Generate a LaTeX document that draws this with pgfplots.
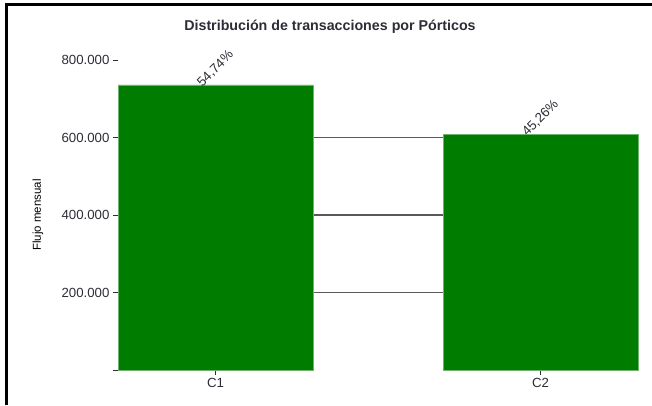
\documentclass[border=0pt]{standalone}
\usepackage{fontspec}
\setmainfont{Liberation Sans}
\usepackage{pgfplots}
\pgfplotsset{compat=1.18}
\definecolor{bargreen}{RGB}{0,125,0}
\definecolor{baredge}{RGB}{110,180,110}
\definecolor{txt}{RGB}{45,45,55}
\definecolor{gridc}{RGB}{90,90,90}
\begin{document}
\begin{tikzpicture}[x=1bp,y=1bp]
\useasboundingbox (0,0) rectangle (652,405);
\fill[white] (0,0) rectangle (652,405);
\draw[line width=3bp] (6,0) -- (6,400) -- (652,400);
\node[font=\bfseries\fontsize{14.3}{16}\selectfont, text=txt] at (330,378) {Distribución de transacciones por Pórticos};
\begin{axis}[
  at={(118bp,35bp)}, anchor=south west,
  scale only axis, width=520bp, height=310bp,
  xmin=-0.3, xmax=1.3, ymin=0, ymax=800000,
  clip=false,
  axis x line*=bottom, axis y line*=left,
  axis line style={draw=none},
  scaled y ticks=false,
  tick align=outside, major tick length=5bp,
  tick style={color=txt, line width=1bp},
  ytick={200000,400000,600000},
  yticklabels={200.000,400.000,600.000},
  extra y ticks={0,800000},
  extra y tick labels={,800.000},
  extra y tick style={grid=none},
  ymajorgrids,
  grid style={color=gridc, line width=1.3bp},
  xtick={0,1}, xticklabels={C1,C2},
  tick label style={font=\fontsize{13.3}{15}\selectfont, text=txt},
  /pgf/number format/assume math mode=true,
  ylabel={Flujo mensual},
  every axis y label/.style={at={(rel axis cs:0,0.5)}, xshift=-80bp, rotate=90, anchor=center, font=\fontsize{11.5}{13}\selectfont, text=black},
  ybar, bar width=195bp,
  point meta=explicit symbolic,
  nodes near coords,
  every node near coord/.append style={anchor=center, yshift=16bp, rotate=45, font=\fontsize{13.3}{15}\selectfont, text=txt},
]
\addplot[fill=bargreen, draw=baredge, line width=0.6bp] coordinates {(0,736000) [54,74\%] (1,608500) [45,26\%]};
\end{axis}
\end{tikzpicture}
\end{document}
